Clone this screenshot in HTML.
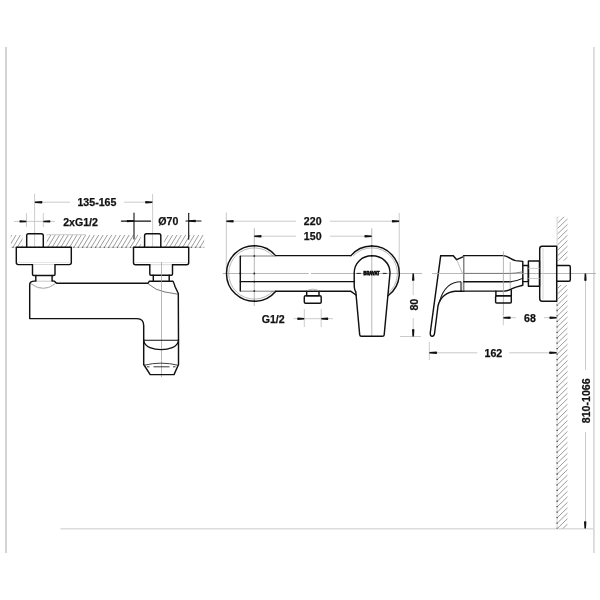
<!DOCTYPE html>
<html><head><meta charset="utf-8"><style>
html,body{margin:0;padding:0;background:#fff;width:600px;height:600px;overflow:hidden;}
svg{display:block;}
.tx{opacity:0.999;}
text{font-family:"Liberation Sans",sans-serif;font-weight:bold;font-size:10.6px;fill:#111;stroke:#111;stroke-width:0.25;}
.o{fill:none;stroke:#111;stroke-width:1.45;stroke-linejoin:round;stroke-linecap:round;}
.t{fill:none;stroke:#9a9a9a;stroke-width:0.7;}
.g{fill:none;stroke:#c4c4c4;stroke-width:0.9;}
.e{fill:none;stroke:#c6c6c6;stroke-width:0.9;}
.c{fill:none;stroke:#a4a4a4;stroke-width:0.8;stroke-dasharray:60 2.5;}
.h{fill:none;stroke:#8a8a8a;stroke-width:0.6;}
.a{fill:#111;stroke:none;}
</style></head><body>
<svg width="600" height="600" viewBox="0 0 600 600">
<defs>

<clipPath id="ch1"><rect x="10.8" y="235" width="11.7" height="12.3"/><rect x="46.7" y="235" width="94.1" height="12.3"/><rect x="164.2" y="235" width="40" height="12.3"/></clipPath>
<clipPath id="ch2"><rect x="557.3" y="216.7" width="10.4" height="44.1"/><rect x="557.3" y="285" width="10.4" height="243.5"/></clipPath>
</defs>
<rect width="600" height="600" fill="#fff"/>
<!-- frame -->
<line x1="6" y1="47" x2="6" y2="553" stroke="#d4d4d4" stroke-width="2"/>
<line x1="593.9" y1="47" x2="593.9" y2="553" stroke="#dadada" stroke-width="1.8"/>
<line x1="60.5" y1="528.8" x2="593" y2="528.8" stroke="#dcdcdc" stroke-width="1.4"/>

<!-- ================= LEFT VIEW ================= -->
<!-- wall hatch -->
<path clip-path="url(#ch1)" d="M-4.40 247.3L2.99 235M-0.05 247.3L7.34 235M4.30 247.3L11.69 235M8.65 247.3L16.04 235M13.00 247.3L20.39 235M17.35 247.3L24.74 235M21.70 247.3L29.09 235M26.05 247.3L33.44 235M30.40 247.3L37.79 235M34.75 247.3L42.14 235M39.10 247.3L46.49 235M43.45 247.3L50.84 235M47.80 247.3L55.19 235M52.15 247.3L59.54 235M56.50 247.3L63.89 235M60.85 247.3L68.24 235M65.20 247.3L72.59 235M69.55 247.3L76.94 235M73.90 247.3L81.29 235M78.25 247.3L85.64 235M82.60 247.3L89.99 235M86.95 247.3L94.34 235M91.30 247.3L98.69 235M95.65 247.3L103.04 235M100.00 247.3L107.39 235M104.35 247.3L111.74 235M108.70 247.3L116.09 235M113.05 247.3L120.44 235M117.40 247.3L124.79 235M121.75 247.3L129.14 235M126.10 247.3L133.49 235M130.45 247.3L137.84 235M134.80 247.3L142.19 235M139.15 247.3L146.54 235M143.50 247.3L150.89 235M147.85 247.3L155.24 235M152.20 247.3L159.59 235M156.55 247.3L163.94 235M160.90 247.3L168.29 235M165.25 247.3L172.64 235M169.60 247.3L176.99 235M173.95 247.3L181.34 235M178.30 247.3L185.69 235M182.65 247.3L190.04 235M187.00 247.3L194.39 235M191.35 247.3L198.74 235M195.70 247.3L203.09 235M200.05 247.3L207.44 235M204.40 247.3L211.79 235M208.75 247.3L216.14 235" fill="none" stroke="#7c7c7c" stroke-width="0.75"/>
<line x1="10.8" y1="247.3" x2="204.2" y2="247.3" stroke="#cfcfcf" stroke-width="0.9"/>
<line x1="10.8" y1="247.3" x2="204.2" y2="247.3" stroke="#444" stroke-width="1.1" stroke-dasharray="1.2 3.15" stroke-dashoffset="2.75"/>
<line x1="46.7" y1="234.7" x2="85.8" y2="234.7" class="g"/>

<!-- dimension 135-165 -->
<line x1="34.6" y1="193.8" x2="34.6" y2="247" class="e"/>
<line x1="152.6" y1="194" x2="152.6" y2="247" class="e"/>
<line x1="42" y1="202.2" x2="70" y2="202.2" class="g"/>
<line x1="124" y1="202.2" x2="146" y2="202.2" class="g"/>
<path class="a" d="M34.8 201.45 L42.0 201.00 Q42.9 202.20 42.0 203.40 L34.8 202.95 Z"/>
<path class="a" d="M152.4 201.45 L145.5 201.00 Q144.6 202.20 145.5 203.40 L152.4 202.95 Z"/>

<!-- dimension 2xG1/2 -->
<line x1="26.5" y1="213" x2="26.5" y2="227" class="e"/>
<line x1="43.3" y1="213" x2="43.3" y2="227" class="e"/>
<line x1="14" y1="221.4" x2="55" y2="221.4" class="g"/>
<path class="a" d="M26.4 220.65 L19.8 220.20 Q18.9 221.40 19.8 222.60 L26.4 222.15 Z"/>
<path class="a" d="M43.4 220.65 L50.0 220.20 Q50.9 221.40 50.0 222.60 L43.4 222.15 Z"/>

<!-- dimension Ø70 -->
<line x1="134" y1="213" x2="134" y2="239" style="stroke-width:1.1" class="o"/>
<line x1="188.7" y1="213.3" x2="188.7" y2="239.3" style="stroke-width:1.1" class="o"/>
<line x1="121.4" y1="221.1" x2="150.6" y2="221.1" style="stroke-width:1.2" class="o"/>
<line x1="186" y1="221" x2="201" y2="221" style="stroke-width:1.2" class="o"/>
<path class="a" d="M134.0 220.35 L127.0 219.90 Q126.1 221.10 127.0 222.30 L134.0 221.85 Z"/>
<path class="a" d="M188.7 220.25 L195.5 219.80 Q196.4 221.00 195.5 222.20 L188.7 221.75 Z"/>

<!-- left connector -->
<path class="o" d="M26.7 247 L26.7 235.5 Q26.7 233.7 28.5 233.7 L41.5 233.7 Q43.3 233.7 43.3 235.5 L43.3 247"/>
<path class="o" d="M32.5 264.6 L18.3 264.6 Q16.3 264.6 16.3 262.6 L16.3 247.3 L71.3 247.3 L71.3 262.6 Q71.3 264.6 69.3 264.6 L55 264.6"/>
<line x1="33.2" y1="264.5" x2="54.3" y2="264.5" stroke="#d0d0d0" stroke-width="0.8"/>
<path class="o" d="M32.5 264.6 L32.5 274.2 Q32.5 275.4 33.7 275.4 L53.8 275.4 Q55 275.4 55 274.2 L55 264.6"/>
<path class="o" d="M35.8 275.4 L35.8 280.9"/>
<path class="o" d="M52.1 275.4 L52.1 280.9"/>
<line x1="35.8" y1="281.2" x2="52.1" y2="281.2" stroke="#bbb" stroke-width="0.8"/>

<line x1="17.5" y1="262.4" x2="70.2" y2="262.4" stroke="#dedede" stroke-width="0.8"/>
<!-- right connector -->
<path class="o" d="M144.6 247 L144.6 235.5 Q144.6 233.7 146.4 233.7 L159 233.7 Q160.8 233.7 160.8 235.5 L160.8 247"/>
<path class="o" d="M149.8 264.8 L135.5 264.8 Q133.5 264.8 133.5 262.8 L133.5 247.3 L188.7 247.3 L188.7 262.8 Q188.7 264.8 186.7 264.8 L172.5 264.8"/>
<line x1="150.5" y1="264.7" x2="171.8" y2="264.7" stroke="#d0d0d0" stroke-width="0.8"/>
<path class="o" d="M149.8 264.8 L149.8 274.1 Q149.8 275.3 151 275.3 L171.3 275.3 Q172.5 275.3 172.5 274.1 L172.5 264.8"/>
<path class="o" d="M153.3 275.3 L153.3 281.2"/>
<path class="o" d="M169.2 275.3 L169.2 281.2"/>

<line x1="134.7" y1="262.6" x2="187.6" y2="262.6" stroke="#dedede" stroke-width="0.8"/>
<!-- body -->
<path class="o" d="M35.8 280.9 L32.5 281.4 Q29.7 281.9 29.7 284.6 L29.7 318.6 L137 318.6 Q143.7 318.6 143.7 325.5 L143.7 340"/>
<path class="o" d="M52.1 280.9 L54.2 281.1 L56.7 283.3 L148 283.3 L149.2 281.25 L173 281.25 Q174 283 175 286.5 L178.3 293.5 L178.5 340"/>
<path style="stroke:#888;stroke-width:0.8" class="h" d="M31 283.8 Q43.5 293 55.5 283.5"/>
<path style="stroke:#ccc;stroke-width:0.6" class="h" d="M33 285.5 Q43.5 292 54 285"/>
<path style="stroke:#555;stroke-width:0.8" class="h" d="M148.3 284 Q156 290.5 165 292 L178 294.2"/>
<line x1="161.5" y1="262" x2="161.5" y2="377" class="t"/>

<!-- spout -->
<line x1="143.7" y1="340.2" x2="178.5" y2="340.2" style="stroke-width:1.05" class="o"/>
<path style="stroke-width:1.3" class="o" d="M143.9 341.3 C146.5 352.5, 175.8 352.5, 178.3 341.3"/>
<path class="o" d="M143.7 340 L143.7 364.5 L150.2 374.6 L174 374.6 L178.5 364.5 L178.5 340"/>
<path d="M143.9 365.3 Q161 361 178.3 365.3" fill="none" stroke="#2a2a2a" stroke-width="0.9"/>
<path d="M147 366.8 L149.5 366.8 M153.5 366.8 L169.5 366.8 M173 366.8 L175.5 366.8" fill="none" stroke="#222" stroke-width="0.9"/>

<!-- ================= MIDDLE VIEW ================= -->
<!-- dims 220 / 150 -->
<line x1="226.3" y1="212.5" x2="226.3" y2="273.5" class="g"/>
<line x1="399.2" y1="213" x2="399.2" y2="273.5" class="g"/>
<line x1="233" y1="221.2" x2="296" y2="221.2" class="g"/>
<line x1="330" y1="221.2" x2="392" y2="221.2" class="g"/>
<path class="a" d="M226.4 220.45 L233.3 220.00 Q234.2 221.20 233.3 222.40 L226.4 221.95 Z"/>
<path class="a" d="M399.1 220.45 L392.2 220.00 Q391.3 221.20 392.2 222.40 L399.1 221.95 Z"/>
<line x1="254.3" y1="228.3" x2="254.3" y2="306" class="t"/>
<line x1="371.8" y1="228.3" x2="371.8" y2="336" class="t"/>
<line x1="261" y1="236.2" x2="296" y2="236.2" class="g"/>
<line x1="330" y1="236.2" x2="365" y2="236.2" class="g"/>
<path class="a" d="M254.3 235.45 L261.2 235.00 Q262.1 236.20 261.2 237.40 L254.3 236.95 Z"/>
<path class="a" d="M371.7 235.45 L364.8 235.00 Q363.9 236.20 364.8 237.40 L371.7 236.95 Z"/>

<!-- center line -->
<line x1="222.5" y1="273.5" x2="422" y2="273.5" style="stroke-dasharray:190 2.5;stroke-dashoffset:104" class="c"/>

<circle cx="240.3" cy="273.5" r="0.9" fill="#222"/><circle cx="254.3" cy="273.5" r="0.9" fill="#222"/><circle cx="254.3" cy="281.6" r="0.9" fill="#222"/><circle cx="254.3" cy="256.0" r="0.9" fill="#222"/><circle cx="254.3" cy="291.0" r="0.9" fill="#222"/><circle cx="254.3" cy="301.2" r="0.9" fill="#222"/><circle cx="254.3" cy="245.8" r="0.9" fill="#222"/><circle cx="371.8" cy="245.9" r="0.9" fill="#222"/><circle cx="371.8" cy="255.8" r="0.9" fill="#222"/>
<!-- left escutcheon circle -->
<path class="o" d="M275.57 255.6 A27.8 27.8 0 1 0 275.74 291.2"/>
<path class="t" d="M273 256 A25.6 25.6 0 1 0 273 291"/>
<!-- right escutcheon circle -->
<path class="o" d="M350.92 255.6 A27.5 27.5 0 1 1 388.3 295.5"/>
<path class="t" d="M353.1 256 A25.6 25.6 0 1 1 387.5 293.7"/>

<!-- body -->
<line x1="275.57" y1="255.6" x2="350.92" y2="255.6" class="o"/>
<line x1="240.3" y1="256" x2="275" y2="256" stroke="#555" stroke-width="0.75"/>
<line x1="240.3" y1="256.3" x2="240.3" y2="291" class="o"/>
<line x1="240.3" y1="281.6" x2="354.5" y2="281.6" class="o"/>
<line x1="240.3" y1="291.2" x2="275" y2="291.2" stroke="#555" stroke-width="0.75"/>
<path class="o" d="M275.74 291.2 L350.6 291.2 L356 295"/>

<!-- outlet G1/2 -->
<path class="o" d="M306.7 291.2 L306.7 295.7 L319 295.7 L319 291.2"/>
<path class="o" d="M305.6 295.7 L320 295.7 Q321.2 295.7 321.2 297 L321.2 302 Q321.2 303.2 320 303.2 L305.6 303.2 Q304.3 303.2 304.3 302 L304.3 297 Q304.3 295.7 305.6 295.7 Z"/>
<path class="t" d="M306.5 290.8 Q312.8 287.5 319.2 290.8"/>

<!-- handle (front) -->
<path class="o" d="M354.2 273 C354.2 263, 362 255.8, 372 255.8 C382 255.8, 390 263, 390 273 L384.2 334.8 Q384 336.3 382.5 336.3 L361.4 336.3 Q359.8 336.3 359.7 334.8 L355.8 291.7 Q354.2 290 354.2 284 Z"/>

<line x1="356.6" y1="273.4" x2="360.8" y2="273.4" stroke="#222" stroke-width="1"/>
<line x1="382.8" y1="273.4" x2="386.6" y2="273.4" stroke="#222" stroke-width="1"/>
<!-- G1/2 dim -->
<line x1="304.3" y1="309" x2="304.3" y2="327" class="e"/>
<line x1="321.2" y1="309" x2="321.2" y2="327" class="e"/>
<line x1="293.5" y1="318.7" x2="333" y2="318.7" class="g"/>
<path class="a" d="M304.2 317.95 L297.6 317.50 Q296.7 318.70 297.6 319.90 L304.2 319.45 Z"/>
<path class="a" d="M321.3 317.95 L327.9 317.50 Q328.8 318.70 327.9 319.90 L321.3 319.45 Z"/>

<!-- 80 dim -->
<line x1="400" y1="336.5" x2="421" y2="336.5" class="g"/>
<line x1="413.2" y1="280" x2="413.2" y2="295" class="g"/>
<line x1="413.2" y1="318" x2="413.2" y2="330" class="g"/>
<path class="a" d="M412.45 273.5 L412.00 280.4 Q413.20 281.3 414.40 280.4 L413.95 273.5 Z"/>
<path class="a" d="M412.45 336.4 L412.00 329.5 Q413.20 328.6 414.40 329.5 L413.95 336.4 Z"/>

<!-- ================= RIGHT VIEW ================= -->
<!-- wall hatch vertical -->
<path clip-path="url(#ch2)" d="M557.3 206.95L567.7 196.91M557.3 212.40L567.7 202.36M557.3 217.85L567.7 207.81M557.3 223.30L567.7 213.26M557.3 228.75L567.7 218.71M557.3 234.20L567.7 224.16M557.3 239.65L567.7 229.61M557.3 245.10L567.7 235.06M557.3 250.55L567.7 240.51M557.3 256.00L567.7 245.96M557.3 261.45L567.7 251.41M557.3 266.90L567.7 256.86M557.3 272.35L567.7 262.31M557.3 277.80L567.7 267.76M557.3 283.25L567.7 273.21M557.3 288.70L567.7 278.66M557.3 294.15L567.7 284.11M557.3 299.60L567.7 289.56M557.3 305.05L567.7 295.01M557.3 310.50L567.7 300.46M557.3 315.95L567.7 305.91M557.3 321.40L567.7 311.36M557.3 326.85L567.7 316.81M557.3 332.30L567.7 322.26M557.3 337.75L567.7 327.71M557.3 343.20L567.7 333.16M557.3 348.65L567.7 338.61M557.3 354.10L567.7 344.06M557.3 359.55L567.7 349.51M557.3 365.00L567.7 354.96M557.3 370.45L567.7 360.41M557.3 375.90L567.7 365.86M557.3 381.35L567.7 371.31M557.3 386.80L567.7 376.76M557.3 392.25L567.7 382.21M557.3 397.70L567.7 387.66M557.3 403.15L567.7 393.11M557.3 408.60L567.7 398.56M557.3 414.05L567.7 404.01M557.3 419.50L567.7 409.46M557.3 424.95L567.7 414.91M557.3 430.40L567.7 420.36M557.3 435.85L567.7 425.81M557.3 441.30L567.7 431.26M557.3 446.75L567.7 436.71M557.3 452.20L567.7 442.16M557.3 457.65L567.7 447.61M557.3 463.10L567.7 453.06M557.3 468.55L567.7 458.51M557.3 474.00L567.7 463.96M557.3 479.45L567.7 469.41M557.3 484.90L567.7 474.86M557.3 490.35L567.7 480.31M557.3 495.80L567.7 485.76M557.3 501.25L567.7 491.21M557.3 506.70L567.7 496.66M557.3 512.15L567.7 502.11M557.3 517.60L567.7 507.56M557.3 523.05L567.7 513.01M557.3 528.50L567.7 518.46M557.3 533.95L567.7 523.91M557.3 539.40L567.7 529.36M557.3 544.85L567.7 534.81" fill="none" stroke="#7c7c7c" stroke-width="0.75"/>
<line x1="557.1" y1="216.7" x2="557.1" y2="528.5" stroke="#d0d0d0" stroke-width="0.9"/>
<line x1="557.1" y1="301" x2="557.1" y2="528.5" stroke="#333" stroke-width="1.2" stroke-dasharray="1.3 4.15" stroke-dashoffset="2.05"/>

<!-- handle side -->
<path class="o" d="M440.7 255.7 L453.3 255.7 L456.7 259.7 L463.5 256.7"/>
<path class="o" d="M440.7 255.7 L430.3 332.5 Q430 336.3 432.2 336.3 Q434.2 336.3 434.6 333 L438 306 C440 297, 447 292, 455 291.3 L463.8 291.2"/>
<path style="stroke:#1a1a1a;stroke-width:1.05" class="h" d="M461 281.7 C451 281.7, 443.5 287, 439.6 301.5"/>
<path style="stroke:#999;stroke-width:0.6" class="h" d="M456.7 259.7 L462.7 274"/>
<rect x="461.4" y="281.9" width="2.2" height="9.2" fill="#e4e4e4"/>
<line x1="461" y1="281.7" x2="461" y2="291.2" stroke="#1a1a1a" stroke-width="1.1"/>

<!-- body side -->
<path class="o" d="M463.5 255.6 L502.5 255.6 C508 255.6, 510.5 259.6, 515.5 260.6 L522.8 261.4 L522.8 285.3 L516 287.1 C511.5 288.3, 509.5 291.1, 504 291.1 L461 291.1"/>
<line x1="463.8" y1="256" x2="463.8" y2="291.1" stroke="#6a6a6a" stroke-width="1.2"/>
<line x1="463.8" y1="281.7" x2="511" y2="281.7" class="o"/>
<path style="stroke-width:1" class="o" d="M511 281.7 Q517 281 523 278.3"/>
<line x1="432" y1="273.5" x2="596" y2="273.5" style="stroke-dasharray:none" class="c"/>
<path d="M463.8 273.4 L511 273.4 Q517 273 522.8 271.8" fill="none" stroke="#707070" stroke-width="0.9"/>
<line x1="510.2" y1="262" x2="510.2" y2="289" class="t"/>
<line x1="503.4" y1="251.5" x2="503.4" y2="315" style="stroke-dasharray:none" class="c"/>

<!-- outlet side -->
<path class="o" d="M495.9 291.1 L495.9 295.8 L511.3 295.8 L511.3 290"/>
<path class="o" d="M496.8 295.8 L510.3 295.8 Q511.3 295.8 511.3 297 L511.3 302 Q511.3 303 510.3 303 L496.6 303 Q495.6 303 495.6 302 L495.6 297 Q495.6 295.8 496.8 295.8 Z"/>

<!-- neck / nut / flange side -->
<path class="o" d="M522.8 265.4 L528.4 265.4 L528.4 281.6 L522.8 281.6"/>
<path class="o" d="M528.4 260.9 L539.5 260.9 L539.5 286.3 L528.4 286.3 Z"/>
<path class="o" d="M556.7 246.3 L542 246.3 Q539.7 246.3 539.7 249 L539.7 298.5 Q539.7 301.2 542 301.2 L556.7 301.2 Z"/>
<path class="o" d="M556.7 265.5 L569 265.5 Q570.3 265.5 570.3 267 L570.3 279.8 Q570.3 281.3 569 281.3 L556.7 281.3"/>
<line x1="543" y1="248" x2="543" y2="299.5" stroke="#d4d4d4" stroke-width="0.9"/>
<line x1="528.4" y1="268.4" x2="539.5" y2="268.4" class="g"/>
<line x1="528.4" y1="278.5" x2="539.5" y2="278.5" class="g"/>

<!-- 68 dim -->
<line x1="503.3" y1="312.7" x2="503.3" y2="325.3" class="e"/>
<line x1="510" y1="317.7" x2="516" y2="317.7" class="g"/>
<line x1="544" y1="317.7" x2="550" y2="317.7" class="g"/>
<path class="a" d="M503.4 316.95 L510.2 316.50 Q511.1 317.70 510.2 318.90 L503.4 318.45 Z"/>
<path class="a" d="M556.6 316.95 L549.8 316.50 Q548.9 317.70 549.8 318.90 L556.6 318.45 Z"/>

<!-- 162 dim -->
<line x1="429.3" y1="342" x2="429.3" y2="360" class="e"/>
<line x1="436.7" y1="352.8" x2="477.3" y2="352.8" class="g"/>
<line x1="509.2" y1="352.8" x2="549.7" y2="352.8" class="g"/>
<path class="a" d="M429.4 352.05 L436.7 351.60 Q437.6 352.80 436.7 354.00 L429.4 353.55 Z"/>
<path class="a" d="M556.6 352.05 L549.5 351.60 Q548.6 352.80 549.5 354.00 L556.6 353.55 Z"/>

<!-- 810-1066 dim -->
<line x1="585.5" y1="280" x2="585.5" y2="370" class="g"/>
<line x1="585.5" y1="432" x2="585.5" y2="522" class="g"/>
<path class="a" d="M584.65 273.6 L584.20 280.6 Q585.40 281.5 586.60 280.6 L586.15 273.6 Z"/>
<path class="a" d="M584.45 528.4 L584.00 521.6 Q585.20 520.7 586.40 521.6 L585.95 528.4 Z"/>
<g class="tx">
<text x="363.5" y="275" textLength="16" lengthAdjust="spacingAndGlyphs" style="font-size:4.8px;stroke-width:0.75">BRAVAT</text>
<text x="96.9" y="206" text-anchor="middle">135-165</text>
<text x="80.6" y="225.7" text-anchor="middle">2xG1/2</text>
<text x="168.3" y="225" text-anchor="middle">Ø70</text>
<text x="312.7" y="224.7" text-anchor="middle">220</text>
<text x="312.7" y="240.3" text-anchor="middle">150</text>
<text x="273.2" y="322.7" text-anchor="middle">G1/2</text>
<text transform="translate(417.6 304.7) rotate(-90)" text-anchor="middle">80</text>
<text x="530" y="321.6" text-anchor="middle">68</text>
<text x="493.4" y="357" text-anchor="middle">162</text>
<text transform="translate(590 400.8) rotate(-90)" text-anchor="middle">810-1066</text>
</g>
</svg>
</body></html>
